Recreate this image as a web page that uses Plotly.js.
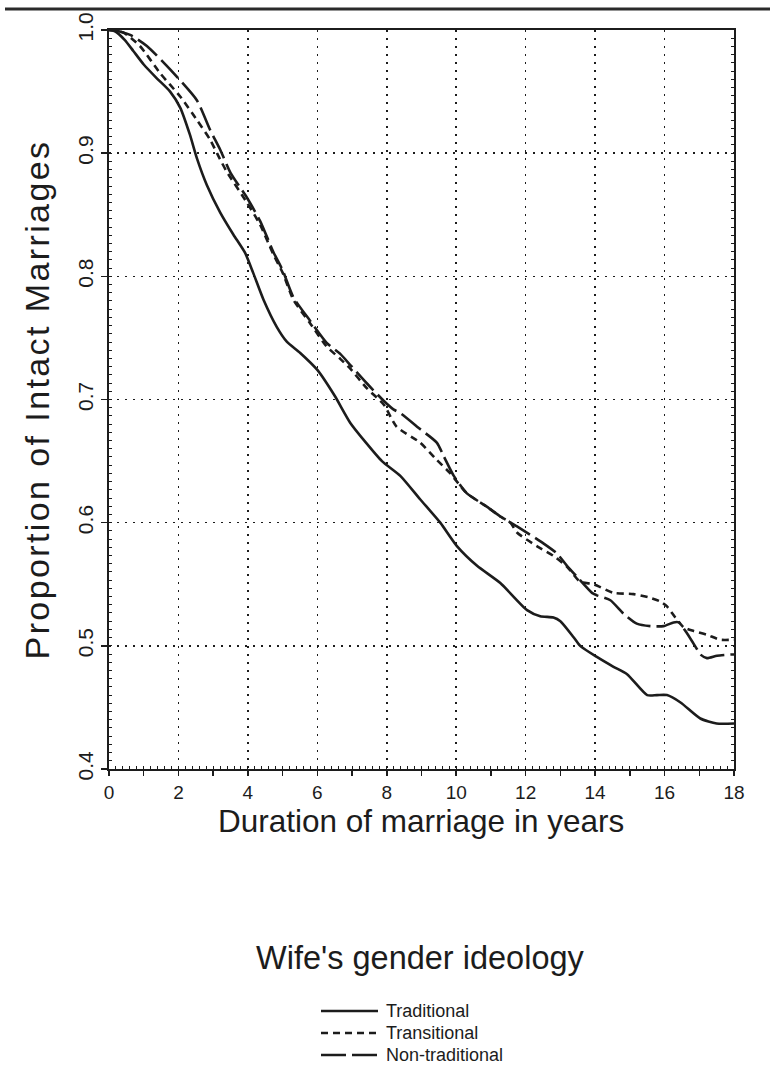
<!DOCTYPE html>
<html>
<head>
<meta charset="utf-8">
<script src="https://cdn.plot.ly/plotly-3.0.1.min.js"></script>
<style>
  html, body { margin: 0; padding: 0; background: #ffffff; }
  #chart { width: 770px; height: 1066px; }
  .g-ytitle text { letter-spacing: 2.4px; }
</style>
</head>
<body>
<div id="chart"></div>
<script>
// ---------------- data ----------------
const seriesNames = ["Traditional", "Transitional", "Non-traditional"];

const tradYears = [0, 0.17, 0.45, 0.7, 1.0, 1.37, 1.76, 2.05, 2.33, 2.53, 2.82, 3.2, 3.58, 3.92, 4.15, 4.45, 4.83, 5.12, 5.5, 6.0, 6.5, 6.95, 7.4, 7.86, 8.39, 8.96, 9.54, 10.02, 10.6, 11.27, 12.04, 12.42, 12.8, 13.0, 13.38, 13.57, 14.05, 14.53, 14.92, 15.5, 15.78, 16.07, 16.46, 17.03, 17.5, 18];
const tradProp  = [1.0, 0.999, 0.992, 0.983, 0.972, 0.961, 0.950, 0.937, 0.915, 0.896, 0.874, 0.852, 0.834, 0.819, 0.803, 0.781, 0.759, 0.747, 0.738, 0.724, 0.703, 0.681, 0.665, 0.650, 0.638, 0.619, 0.600, 0.581, 0.565, 0.551, 0.529, 0.524, 0.523, 0.520, 0.507, 0.500, 0.491, 0.483, 0.477, 0.460, 0.460, 0.460, 0.454, 0.441, 0.437, 0.437];

const transYears = [0, 0.41, 0.89, 1.47, 2.05, 2.53, 2.91, 3.2, 3.39, 3.97, 4.35, 4.73, 5.0, 5.31, 5.79, 6.27, 6.66, 6.95, 7.43, 7.91, 8.28, 8.96, 9.44, 9.83, 10.3, 10.88, 11.27, 11.56, 11.75, 12.32, 12.8, 13.2, 13.57, 13.96, 14.53, 15.11, 15.59, 15.88, 16.07, 16.31, 16.55, 16.84, 17.22, 17.6, 18];
const transProp  = [1.0, 0.998, 0.987, 0.965, 0.946, 0.927, 0.911, 0.895, 0.885, 0.860, 0.842, 0.818, 0.803, 0.781, 0.762, 0.743, 0.733, 0.725, 0.709, 0.696, 0.678, 0.665, 0.651, 0.640, 0.624, 0.613, 0.605, 0.600, 0.592, 0.581, 0.573, 0.564, 0.552, 0.550, 0.543, 0.542, 0.539, 0.536, 0.532, 0.523, 0.515, 0.512, 0.509, 0.505, 0.505];

const nontradYears = [0, 0.12, 0.61, 1.09, 1.76, 2.53, 2.91, 3.2, 3.5, 3.97, 4.35, 4.73, 5.0, 5.31, 5.79, 6.27, 6.66, 6.95, 7.43, 7.91, 8.19, 8.39, 8.96, 9.44, 9.64, 9.93, 10.3, 10.88, 11.27, 11.75, 12.52, 12.9, 13.19, 13.48, 13.91, 14.05, 14.44, 14.82, 15.2, 15.59, 15.97, 16.26, 16.41, 16.65, 16.94, 17.03, 17.22, 17.51, 17.9, 18];
const nontradProp  = [1.0, 1.0, 0.996, 0.987, 0.968, 0.943, 0.919, 0.903, 0.884, 0.864, 0.845, 0.820, 0.805, 0.783, 0.764, 0.746, 0.737, 0.728, 0.713, 0.699, 0.692, 0.689, 0.676, 0.665, 0.654, 0.638, 0.624, 0.613, 0.605, 0.597, 0.583, 0.575, 0.565, 0.556, 0.543, 0.541, 0.537, 0.526, 0.518, 0.516, 0.516, 0.519, 0.519, 0.510, 0.497, 0.493, 0.490, 0.492, 0.493, 0.493];

const xTitle = "Duration of marriage in years";
const yTitle = "Proportion of Intact Marriages";
const legendTitle = "Wife's gender ideology";

// ---------------- styling ----------------
const FONT = "Liberation Sans, Arial, Helvetica, sans-serif";
const INK = "#1c1c1c";
const dashes = ["solid", "7px,5px", "25px,6px"];
const W = 770, H = 1066;
const M = { l: 109, r: 36, t: 30, b: 297 };
const PW = W - M.l - M.r, PH = H - M.t - M.b;
const px2x = px => (px - M.l) / PW;
const px2y = py => (H - M.b - py) / PH;

const xs = [tradYears, transYears, nontradYears];
const ys = [tradProp, transProp, nontradProp];

const traces = seriesNames.map((name, i) => ({
  type: "scatter", mode: "lines", name: name,
  x: xs[i], y: ys[i],
  line: { color: INK, width: 2.6, dash: dashes[i], shape: "spline", smoothing: 0.6 },
  showlegend: false, hoverinfo: "skip"
}));
// empty trace so the overlay axes (inner minor ticks) get drawn
traces.push({ type: "scatter", mode: "lines", x: [], y: [], xaxis: "x2", yaxis: "y2", showlegend: false, hoverinfo: "skip" });

const shapes = [
  { type: "line", xref: "paper", yref: "paper", x0: px2x(5), x1: px2x(770), y0: px2y(9), y1: px2y(9),
    line: { color: "#2a2a2a", width: 3 } }
];
const annotations = [
  { xref: "paper", yref: "paper", x: px2x(421), y: px2y(801), text: xTitle, showarrow: false,
    xanchor: "center", yanchor: "top", font: { family: FONT, size: 31.5, color: INK } },
  { xref: "paper", yref: "paper", x: px2x(420), y: px2y(958), text: legendTitle, showarrow: false,
    xanchor: "center", yanchor: "middle", font: { family: FONT, size: 32.5, color: INK } }
];
const legY = [1011, 1033, 1055];
seriesNames.forEach((name, i) => {
  shapes.push({ type: "line", xref: "paper", yref: "paper", x0: px2x(321), x1: px2x(378), y0: px2y(legY[i]), y1: px2y(legY[i]),
    line: { color: INK, width: 2.6, dash: dashes[i] } });
  annotations.push({ xref: "paper", yref: "paper", x: px2x(384), y: px2y(legY[i]), text: name, showarrow: false,
    xanchor: "left", yanchor: "middle", font: { family: FONT, size: 18, color: INK } });
});

const layout = {
  width: W, height: H,
  margin: M,
  paper_bgcolor: "#ffffff", plot_bgcolor: "#ffffff",
  font: { family: FONT, color: INK },
  showlegend: false,
  xaxis: {
    range: [0, 18], dtick: 2, tick0: 0,
    ticks: "outside", ticklen: 5, tickwidth: 1.5, tickcolor: INK,
    tickfont: { family: FONT, size: 19, color: INK }, ticklabelstandoff: 0,
    showline: true, linecolor: INK, linewidth: 2, mirror: true,
    showgrid: true, gridcolor: INK, gridwidth: 1.6, griddash: "2px,6px",
    zeroline: false,
    minor: { dtick: 1, ticks: "outside", ticklen: 5, tickwidth: 1.5, tickcolor: INK, showgrid: false }
  },
  yaxis: {
    range: [0.4, 1.0], dtick: 0.1, tick0: 0.4, tickformat: ".1f",
    ticks: "outside", ticklen: 6, tickwidth: 1.5, tickcolor: INK, tickangle: -90,
    tickfont: { family: FONT, size: 21, color: INK }, ticklabelstandoff: 0,
    showline: true, linecolor: INK, linewidth: 2, mirror: true,
    showgrid: true, gridcolor: INK, gridwidth: 1.6, griddash: "2px,6px",
    zeroline: false,
    title: { text: yTitle, font: { family: FONT, size: 34, color: INK }, standoff: 14 }
  },
  xaxis2: {
    overlaying: "x", anchor: "y2", side: "bottom", range: [0, 18], dtick: 0.2, tick0: 0,
    ticks: "inside", ticklen: 3, tickwidth: 1, tickcolor: INK,
    showticklabels: false, showgrid: false, zeroline: false, showline: false
  },
  yaxis2: {
    overlaying: "y", anchor: "x2", side: "left", range: [0.4, 1.0], dtick: 0.1 / 15, tick0: 0.4,
    ticks: "inside", ticklen: 3, tickwidth: 1, tickcolor: INK, mirror: "ticks",
    showticklabels: false, showgrid: false, zeroline: false, showline: false
  },
  shapes: shapes,
  annotations: annotations
};

Plotly.newPlot("chart", traces, layout, { staticPlot: true, displayModeBar: false });
</script>
</body>
</html>
